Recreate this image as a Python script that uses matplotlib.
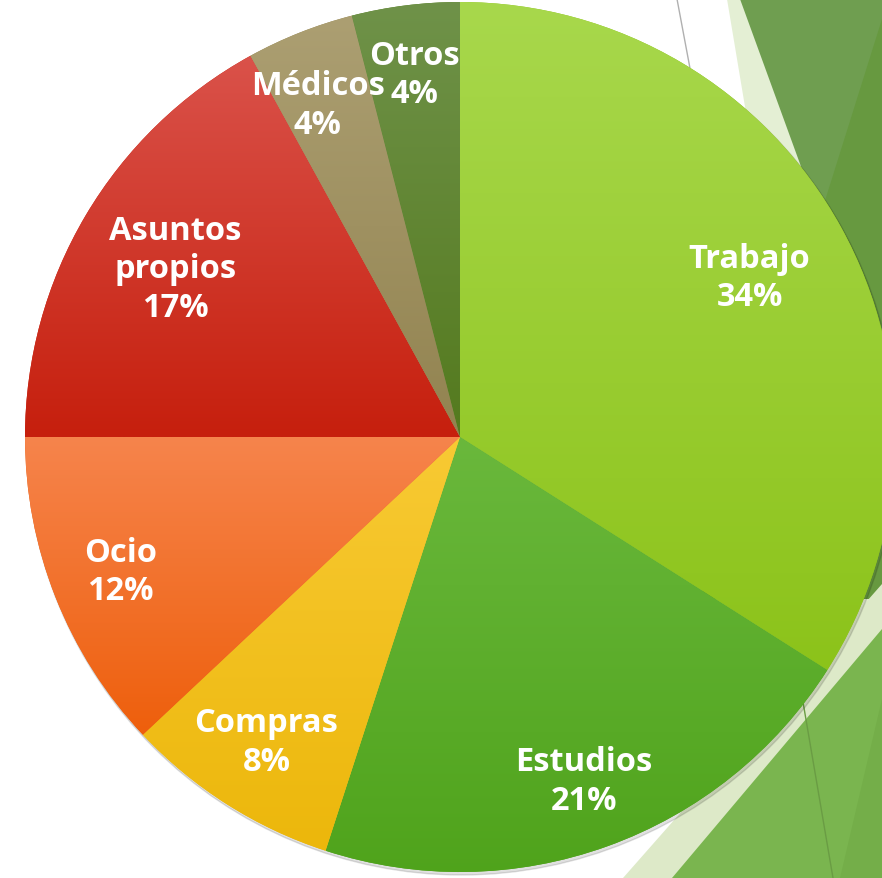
import numpy as np
import matplotlib.pyplot as plt
from matplotlib.patches import Polygon
from matplotlib.colors import to_rgb

# Data
categories = ["Trabajo", "Estudios", "Compras", "Ocio", "Asuntos\npropios", "Médicos", "Otros"]
shares = [34, 21, 8, 12, 17, 4, 4]

# Top / bottom colours of each slice gradient
top_colors = ["#a8d84c", "#6ab83c", "#f8ca34", "#f6844c", "#da524a", "#ac9f72", "#6f9249"]
bottom_colors = ["#8cc31a", "#4fa31b", "#ecb70b", "#ee5f0c", "#c61f0d", "#928350", "#547a1e"]
label_dist = [0.76, 0.84, 0.83, 0.84, 0.76, 0.83, 0.84]
label_turn = [0, 0, 0, 0, 0, 1.6, 0]  # degrees, small nudge for crowded labels

W, H = 882, 879
fig = plt.figure(figsize=(W / 100, H / 100), dpi=100)
ax = fig.add_axes([0, 0, 1, 1])


def yd(y):
    # convert top-down pixel y to axis y
    return H - y


# decorative background shapes (slide theme)
def poly(pts, color, z=0):
    ax.add_patch(Polygon([(x, yd(y)) for x, y in pts], closed=True,
                         facecolor=color, edgecolor="none", zorder=z))


poly([(727, 0), (882, 0), (882, 928)], "#e4efd4")
poly([(740, 0), (882, 0), (882, 390)], "#6f9e50")
poly([(882, 20), (882, 600), (700, 600)], "#679940")
poly([(623, 879), (882, 879), (882, 585)], "#dde9c8")
poly([(672, 879), (882, 879), (882, 630)], "#7ab54f")
poly([(840, 879), (882, 879), (882, 700)], "#74ae49")
ax.plot([677, 692], [yd(0), yd(80)], color="#b0b0b0", lw=1, zorder=0.5)
ax.plot([803, 833], [yd(703), yd(879)], color="#6a9c44", lw=1, zorder=0.5)

cx, cy, r = 460, yd(438), 435

wedges, texts = ax.pie(shares, center=(cx, cy), radius=r, startangle=90,
                       counterclock=False, labels=categories,
                       labeldistance=None, frame=True,
                       wedgeprops=dict(linewidth=0, zorder=2))

# soft shadow under the pie
shadow = plt.Circle((cx + 1.5, cy - 2.5), r + 0.5, color="#000000", alpha=0.12, zorder=1)
ax.add_patch(shadow)

# vertical gradient inside each wedge
for w, c0, c1 in zip(wedges, top_colors, bottom_colors):
    w.set_facecolor(c1)
    verts = w.get_path().vertices
    x0, x1 = verts[:, 0].min(), verts[:, 0].max()
    y0, y1 = verts[:, 1].min(), verts[:, 1].max()
    t = np.linspace(0, 1, 256)[:, None]
    a, b = np.array(to_rgb(c0)), np.array(to_rgb(c1))
    grad = (a[None, :] * (1 - t) + b[None, :] * t)[:, None, :]
    im = ax.imshow(grad, extent=(x0, x1, y0, y1), origin="upper",
                   aspect="auto", zorder=3, interpolation="bilinear")
    im.set_clip_path(w)

# labels
total = sum(shares)
start = 90.0
for cat, val, d, turn in zip(categories, shares, label_dist, label_turn):
    span = 360.0 * val / total
    mid = np.deg2rad(start - span / 2 + turn)
    start -= span
    tx = cx + d * r * np.cos(mid)
    ty = cy + d * r * np.sin(mid)
    ax.text(tx, ty, f"{cat}\n{round(100 * val / total)}%", ha="center",
            va="center", color="white", fontsize=23.5, fontweight="bold",
            family="Open Sans", linespacing=1.22, zorder=5)

ax.set_xlim(0, W)
ax.set_ylim(0, H)
ax.axis("off")
fig.savefig("out.png", dpi=100)
